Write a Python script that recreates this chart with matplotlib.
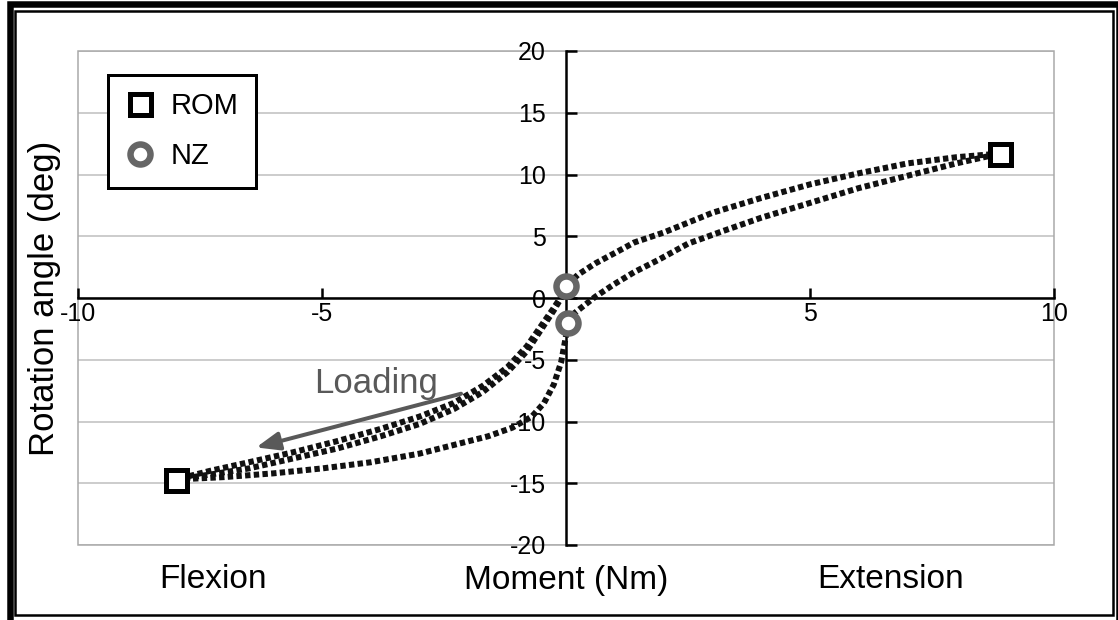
import matplotlib
matplotlib.use("Agg")
import matplotlib.pyplot as plt
from matplotlib.patches import Rectangle

plt.rcParams['font.family'] = ['Liberation Sans', 'DejaVu Sans']

# ---- data ----
# loading toward flexion (two cycles)
flex_load_m = [0.0, -0.1, -0.25, -0.5, -0.8, -1.2, -1.7, -2.3, -3.0, -3.8, -4.7, -5.6, -6.5, -7.3, -8.0]
flex_load_a1 = [1.0, 0.1, -0.8, -2.2, -3.9, -5.6, -7.1, -8.5, -9.6, -10.6, -11.6, -12.5, -13.3, -14.0, -14.7]
flex_load_a2 = [1.0, 0.0, -1.0, -2.5, -4.3, -6.0, -7.6, -9.0, -10.2, -11.2, -12.2, -13.0, -13.8, -14.3, -14.7]
# unloading from flexion
flex_unload_m = [-8.0, -7.0, -6.0, -5.0, -4.0, -3.0, -2.2, -1.6, -1.1, -0.7, -0.45, -0.25, -0.1, -0.02, 0.05]
flex_unload_a = [-14.7, -14.5, -14.2, -13.8, -13.3, -12.6, -11.8, -11.2, -10.5, -9.6, -8.5, -7.0, -5.2, -3.5, -2.0]
# loading toward extension
ext_load_m = [0.05, 0.15, 0.31, 0.6, 0.98, 1.4, 1.9, 2.5, 3.2, 4.0, 5.0, 6.0, 7.0, 8.0, 8.9]
ext_load_a = [-2.0, -1.3, -0.8, 0.1, 1.1, 2.1, 3.1, 4.4, 5.4, 6.5, 7.7, 8.9, 9.9, 10.9, 11.7]
# unloading from extension
ext_unload_m = [8.9, 8.0, 7.0, 6.0, 5.0, 4.0, 3.0, 2.0, 1.4, 0.98, 0.6, 0.25, 0.0]
ext_unload_a = [11.7, 11.4, 10.9, 10.1, 9.2, 8.1, 6.9, 5.3, 4.5, 3.6, 2.8, 1.9, 1.0]

rom_m = [-8.0, 8.9]
rom_a = [-14.7, 11.7]
nz_m = [0.0, 0.05]
nz_a = [1.0, -2.0]

xticks = [-10, -5, 5, 10]
yticks = [-20, -15, -10, -5, 0, 5, 10, 15, 20]

W, H = 1118, 620
fig = plt.figure(figsize=(W / 100, H / 100), dpi=100)
px = lambda v: v * 72 / 100  # pixels -> points

L, R, T, B = 78, 1054, 51, 545
ax = fig.add_axes([L / W, 1 - B / H, (R - L) / W, (B - T) / H])
ax.set_xlim(-10, 10)
ax.set_ylim(-20, 20)

for y in yticks:
    ax.axhline(y, color='#c4c4c4', lw=1.2, zorder=0)

curve_kw = dict(color='#111111', lw=px(6), linestyle=(0, (0.9, 0.55)), dash_capstyle='butt', zorder=3)
ax.plot(flex_load_m, flex_load_a1, **curve_kw)
ax.plot(flex_load_m, flex_load_a2, **curve_kw)
ax.plot(flex_unload_m, flex_unload_a, **curve_kw)
ax.plot(ext_load_m, ext_load_a, **curve_kw)
ax.plot(ext_unload_m, ext_unload_a, **curve_kw)

rom, = ax.plot(rom_m, rom_a, linestyle='none', marker='s', ms=px(21), mew=px(5),
               mfc='white', mec='black', zorder=5, label='ROM')
nz, = ax.plot(nz_m, nz_a, linestyle='none', marker='o', ms=px(20), mew=px(6.5),
              mfc='white', mec='#666666', zorder=5, label='NZ')

for s in ['top', 'right']:
    ax.spines[s].set_visible(False)
ax.spines['left'].set_position(('data', 0))
ax.spines['bottom'].set_position(('data', 0))
for s in ['left', 'bottom']:
    ax.spines[s].set_linewidth(px(2.5))
    ax.spines[s].set_color('black')
    ax.spines[s].set_zorder(2)
ax.add_patch(Rectangle((0, 0), 1, 1, transform=ax.transAxes, fill=False,
                       edgecolor='#a8a8a8', lw=px(1.5), zorder=1, clip_on=False))

ax.set_xticks(xticks)
ax.set_xticklabels([str(v) for v in xticks])
ax.set_yticks(yticks)
ax.set_yticklabels([str(v) for v in yticks])
ax.tick_params(axis='y', direction='in', length=px(11), width=px(2.5), pad=px(20), labelsize=18)
ax.tick_params(axis='x', direction='in', length=px(10), width=px(2.5), pad=px(4), labelsize=18)

ax.set_xlabel('Moment (Nm)', fontsize=24)
ax.xaxis.set_label_coords(0.5, 1 - (580 - T) / (B - T), transform=ax.transAxes)
ax.xaxis.label.set_va('center')
ax.set_ylabel('Rotation angle (deg)', fontsize=25)
ax.yaxis.set_label_coords((45 - L) / (R - L), 0.5)
ax.yaxis.label.set_va('center')

ax.text((213 - L) / (R - L), 1 - (580 - T) / (B - T), 'Flexion', transform=ax.transAxes,
        fontsize=24, ha='center', va='center')
ax.text((891 - L) / (R - L), 1 - (580 - T) / (B - T), 'Extension', transform=ax.transAxes,
        fontsize=24, ha='center', va='center')

ax.annotate('', xy=(-6.35, -12.1), xytext=(-2.15, -7.75),
            arrowprops=dict(arrowstyle='-|>,head_length=1.4,head_width=0.55', color='#595959',
                            lw=px(4), shrinkA=0, shrinkB=0), zorder=4)
ax.text(-3.9, -6.9, 'Loading', fontsize=25, color='#595959', ha='center', va='center', zorder=4)

leg = ax.legend(handles=[rom, nz], loc='upper left',
                bbox_to_anchor=((108 - L) / (R - L), 1 - (75 - T) / (B - T)),
                borderaxespad=0, fontsize=21, frameon=True, fancybox=False,
                handlelength=1.0, handletextpad=0.55, labelspacing=0.75, borderpad=0.6,
                markerscale=1.0)
leg.get_frame().set_edgecolor('black')
leg.get_frame().set_linewidth(px(3))
leg.get_frame().set_alpha(1)

# outer double border
fig.add_artist(Rectangle((10 / W, 1 - 624 / H), (1119 - 10) / W, (624 - 4.5) / H,
                         transform=fig.transFigure, fill=False, edgecolor='black', lw=px(6.5)))
fig.add_artist(Rectangle((15 / W, 1 - 614.5 / H), (1113 - 15) / W, (614.5 - 11) / H,
                         transform=fig.transFigure, fill=False, edgecolor='black', lw=px(2.5)))

fig.savefig('out.png', dpi=100)
